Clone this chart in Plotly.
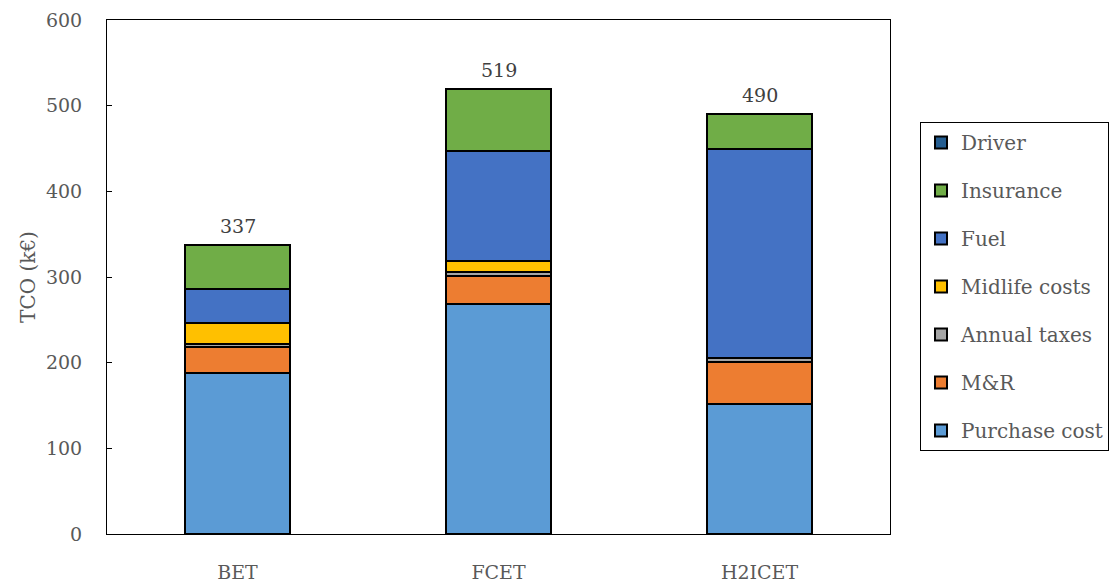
import plotly.graph_objects as go

categories = ["BET", "FCET", "H2ICET"]
series_names = ["Purchase cost", "M&R", "Annual taxes", "Midlife costs", "Fuel", "Insurance", "Driver"]
purchase_cost = [188, 268, 152]
m_and_r = [30, 33, 49]
annual_taxes = [4, 5, 4]
midlife_costs = [24, 13, 0]
fuel = [40, 128, 244]
insurance = [51, 72, 41]
driver = [0, 0, 0]
totals_labels = [337, 519, 490]

colors = ["#5B9BD5", "#ED7D31", "#A5A5A5", "#FFC000", "#4472C4", "#70AD47", "#255E91"]
values = [purchase_cost, m_and_r, annual_taxes, midlife_costs, fuel, insurance, driver]

FONT = "DejaVu Serif"
GREY = "#595959"

fig = go.Figure()
n = len(series_names)
for i, (name, vals, col) in enumerate(zip(series_names, values, colors)):
    fig.add_trace(go.Bar(
        x=categories, y=vals, name=name, legendgroup=name,
        legendrank=n - i,
        marker=dict(color=col, line=dict(color="black", width=2)),
    ))

totals = [sum(v) for v in zip(*values)]
for cat, tot, lab in zip(categories, totals, totals_labels):
    fig.add_annotation(x=cat, y=tot, text=str(lab), showarrow=False,
                       yanchor="bottom", yshift=6,
                       font=dict(family=FONT, size=19, color="#404040"))

fig.update_layout(
    width=1109, height=586,
    barmode="stack", bargap=0.6,
    plot_bgcolor="white", paper_bgcolor="white",
    margin=dict(l=107, r=219, t=20, b=52, autoexpand=False),
    font=dict(family=FONT, color=GREY),
    legend=dict(
        traceorder="grouped", tracegroupgap=19,
        xref="container", yref="container",
        x=920 / 1109, y=1 - 122 / 586, xanchor="left", yanchor="top",
        bordercolor="black", borderwidth=1,
        font=dict(family=FONT, size=20, color=GREY),
        itemwidth=30, maxheight=500,
    ),
    showlegend=True,
)
fig.update_yaxes(
    range=[0, 600], dtick=100, ticks="inside", ticklen=5, tickcolor="black",
    showline=True, linecolor="black", linewidth=1, mirror=True,
    showgrid=False, zeroline=False,
    tickfont=dict(family=FONT, size=19, color=GREY),
    ticklabelstandoff=20,
    title=dict(text="TCO (k€)", font=dict(family=FONT, size=20, color=GREY), standoff=4),
)
fig.update_xaxes(
    showline=True, linecolor="black", linewidth=1, mirror=True,
    ticks="", showgrid=False,
    tickfont=dict(family=FONT, size=19, color=GREY),
    ticklabelstandoff=21,
)

fig.write_html("out.html")
